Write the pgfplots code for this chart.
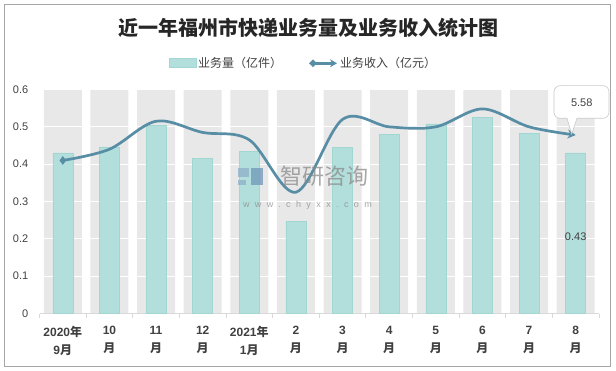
\documentclass[border=0pt]{standalone}
\usepackage{pgfplots}
\pgfplotsset{compat=1.18}
\usepackage{fontspec}
\setmainfont{Liberation Sans}
\newfontfamily\cjk{Noto Sans CJK SC}
\usetikzlibrary{arrows.meta}
\definecolor{barc}{HTML}{B2DFDB}
\definecolor{bare}{HTML}{A2D6D1}
\definecolor{band}{HTML}{E8E8E8}
\definecolor{linec}{HTML}{588EA5}
\definecolor{txt}{HTML}{404040}
\definecolor{axisc}{HTML}{D9D9D9}
\definecolor{framec}{HTML}{A6A6A6}
\definecolor{titlec}{HTML}{262626}
\definecolor{logoa}{HTML}{8FAFC8}
\definecolor{logob}{HTML}{6E96B9}
\definecolor{callc}{HTML}{C8C8C8}
\definecolor{wmc}{HTML}{8A8A8A}
\begin{document}
\begin{tikzpicture}
\path (0,0) rectangle (616pt,370pt);
\draw[draw=framec, line width=0.8pt] (4pt,3.5pt) rectangle (610pt,366pt);
\node[font=\cjk\bfseries\fontsize{20}{24}\selectfont, text=titlec] at (308pt,342pt) {近一年福州市快递业务量及业务收入统计图};
% legend
\draw[fill=barc, draw=bare] (169pt,302.3pt) rectangle (196pt,311.7pt);
\node[anchor=west, inner sep=0pt, font=\cjk\fontsize{12}{14}\selectfont, text=txt] at (198pt,306.7pt) {业务量（亿件）};
\draw[linec, line width=2.6pt, -{Stealth[length=7pt,width=8pt]}] (312pt,306.7pt) -- (337pt,306.7pt);
\fill[linec] (309pt,306.7pt) -- (313pt,310.5pt) -- (317pt,306.7pt) -- (313pt,302.9pt) -- cycle;
\node[anchor=west, inner sep=0pt, font=\cjk\fontsize{12}{14}\selectfont, text=txt] at (340pt,306.7pt) {业务收入（亿元）};
\begin{axis}[
 set layers,
 at={(39.5pt,56.5pt)}, anchor=south west,
 scale only axis, width=559.5pt, height=224pt,
 xmin=-0.5, xmax=11.5, ymin=0, ymax=0.6,
 axis x line*=bottom, axis y line*=left,
 x axis line style={draw=axisc, line width=0.8pt},
 y axis line style={draw=none},
 xtick={0,1,2,3,4,5,6,7,8,9,10,11},
 xticklabels={{2020{\cjk 年}\\9{\cjk 月}},{10\\{\cjk 月}},{11\\{\cjk 月}},{12\\{\cjk 月}},{2021{\cjk 年}\\1{\cjk 月}},{2\\{\cjk 月}},{3\\{\cjk 月}},{4\\{\cjk 月}},{5\\{\cjk 月}},{6\\{\cjk 月}},{7\\{\cjk 月}},{8\\{\cjk 月}}},
 major x tick style={draw=none},
 minor xtick={-0.5,0.5,1.5,2.5,3.5,4.5,5.5,6.5,7.5,8.5,9.5,10.5,11.5},
 minor x tick style={draw=axisc, line width=0.8pt},
 tick align=outside,
 minor tick length=4pt,
 ytick={0,0.1,0.2,0.3,0.4,0.5,0.6},
 ytick style={draw=none},
 ymajorgrids, grid style={white, line width=1pt},
 /pgf/number format/assume math mode=true,
 yticklabel={\pgfmathprintnumber[fixed,precision=1]{\tick}},
 yticklabel style={font=\fontsize{11}{13}\selectfont, text=txt, xshift=-3.5pt},
 xticklabel style={font=\fontsize{12}{18}\selectfont\bfseries, text=txt, align=center, yshift=-5pt},
 clip=false,
]
\addplot[ybar, bar width=38pt, bar shift=0pt, fill=band, draw=none, on layer=axis background] coordinates {
(0,0.6) (1,0.6) (2,0.6) (3,0.6) (4,0.6) (5,0.6) (6,0.6) (7,0.6) (8,0.6) (9,0.6) (10,0.6) (11,0.6)};
\addplot[ybar, bar width=20pt, bar shift=0pt, fill=barc, draw=bare, line width=0.6pt] coordinates {
(0,0.43) (1,0.446) (2,0.504) (3,0.415) (4,0.434) (5,0.246) (6,0.444) (7,0.479) (8,0.508) (9,0.525) (10,0.482) (11,0.43)};
\addplot[smooth, tension=0.55, linec, line width=2.7pt, -{Stealth[length=8pt,width=9pt]}] coordinates {
(0,0.41) (1,0.44) (2,0.515) (3,0.485) (4,0.465) (5,0.325) (6,0.52) (7,0.50) (8,0.50) (9,0.548) (10,0.50) (11,0.478)};
\addplot[only marks, mark=diamond*, mark size=4pt, linec] coordinates {(0,0.41)};
\node[font=\fontsize{11}{13}\selectfont, text=txt] at (axis cs:11,0.205) {0.43};
\end{axis}
% watermark
\begin{scope}[opacity=0.75]
\fill[logoa] (238pt,193pt) rectangle (249pt,202pt);
\fill[logoa] (238pt,185pt) rectangle (246pt,190pt);
\fill[logob] (251pt,185pt) rectangle (263pt,202pt);
\node[font=\cjk\fontsize{22}{24}\selectfont, text=wmc] at (324pt,193.5pt) {智研咨询};
\node[font=\fontsize{9}{10}\selectfont\addfontfeature{LetterSpace=60}, text=wmc] at (307.5pt,165pt) {www.chyxx.com};
\end{scope}
% callout
\draw[draw=callc, fill=white, line width=0.6pt] (567pt,251.7pt) -- (571.7pt,236pt) -- (577pt,251.7pt) [rounded corners=6pt] -- (609pt,251.7pt) -- (609pt,284.3pt) -- (554pt,284.3pt) -- (554pt,251.7pt) -- (567pt,251.7pt);
\node[font=\fontsize{11}{13}\selectfont, text=txt] at (581.7pt,267.5pt) {5.58};
\end{tikzpicture}
\end{document}
